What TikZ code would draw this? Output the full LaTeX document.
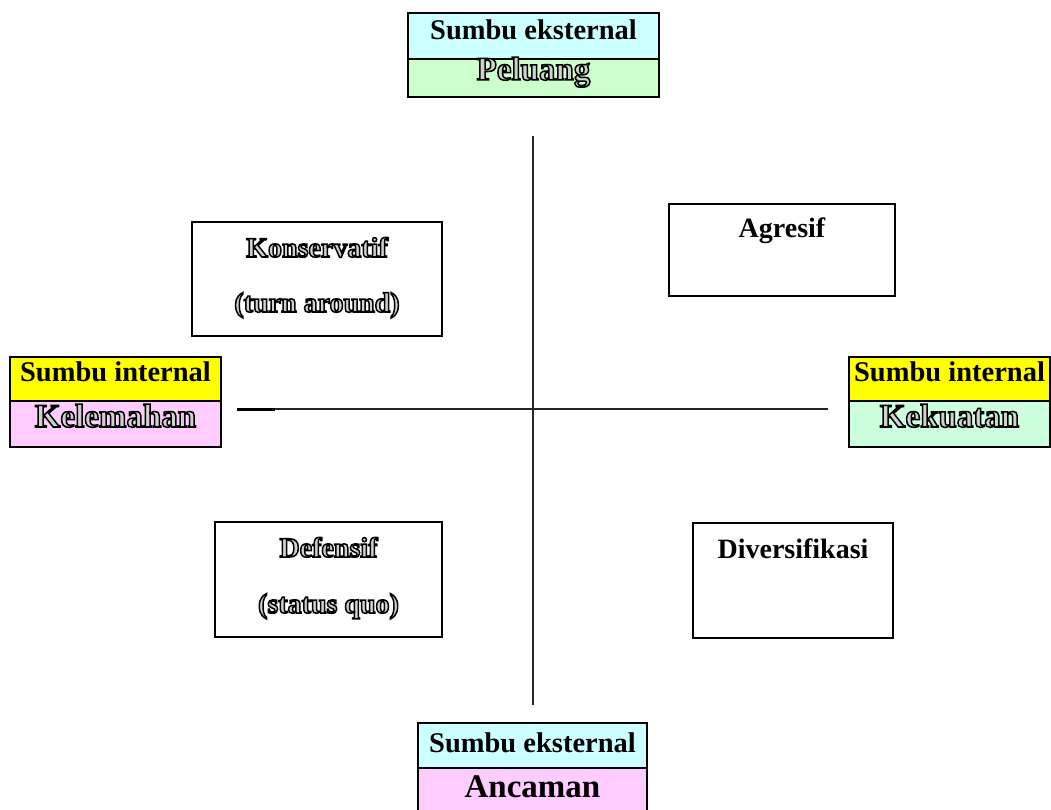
\documentclass[tikz,border=0pt]{standalone}
\usepackage{fontspec}
\setmainfont{Liberation Serif}
\usepackage{tikz}
\usetikzlibrary{positioning, calc}
\definecolor{langit}{RGB}{204,255,255}
\definecolor{daun}{RGB}{204,255,204}
\definecolor{jambu}{RGB}{255,204,255}
\definecolor{kuning}{RGB}{255,255,0}
\definecolor{mint}{RGB}{204,255,221}
\newcommand{\berongga}[1]{\special{pdf:literal direct 2 Tr 1.5 w 0.82 g}#1\special{pdf:literal direct 0 Tr 0 g}}
\tikzset{
  sumbu/.style={rectangle, draw=black, line width=1.5pt, inner xsep=0pt, inner ysep=0pt,
                outer sep=0pt, font=\fontsize{28.5}{34}\selectfont\bfseries},
  nilai/.style={sumbu, font=\fontsize{33}{40}\selectfont\bfseries},
  kuadran/.style={rectangle, draw=black, line width=1.5pt, fill=white, outer sep=0pt,
                  anchor=north west},
  teks/.style={anchor=base, inner sep=0pt, font=\fontsize{28}{34}\selectfont\bfseries},
  garis/.style={line width=2pt, black!85}
}

\begin{document}
\begin{tikzpicture}[x=1pt, y=-1pt]
  \useasboundingbox (0,0) rectangle (1051,810);
  % sumbu
  \coordinate (atas)  at (533,136);
  \coordinate (bawah) at (533,705);
  \coordinate (kiri)  at (237,409);
  \coordinate (tanda) at (275,409);
  \coordinate (kanan) at (828,409);
  \draw[garis] (atas) -- (bawah);
  \draw[garis] (kiri) -- (kanan);
  \draw[garis, line width=3pt, black] (kiri) -- (tanda);

  % sumbu eksternal (atas)
  \node[sumbu, fill=langit, anchor=north west, minimum width=251pt,
        text height=27pt, text depth=19pt] (eksAtas) at (408,13) {Sumbu eksternal};
  \node[nilai, fill=daun, below=0pt of eksAtas, minimum width=251pt,
        text height=21pt, text depth=17pt] (peluang) {\berongga{Peluang}};

  % sumbu internal (kiri)
  \node[sumbu, fill=kuning, anchor=north west, minimum width=211pt,
        text height=24pt, text depth=20pt] (intKiri) at (10,357) {Sumbu internal};
  \node[nilai, fill=jambu, below=0pt of intKiri, minimum width=211pt,
        text height=26pt, text depth=20pt] (kelemahan) {\berongga{Kelemahan}};

  % sumbu internal (kanan)
  \node[sumbu, fill=kuning, anchor=north west, minimum width=201pt,
        text height=24pt, text depth=20pt] (intKanan) at (849,357) {Sumbu internal};
  \node[nilai, fill=mint, below=0pt of intKanan, minimum width=201pt,
        text height=26pt, text depth=20pt] (kekuatan) {\berongga{Kekuatan}};

  % sumbu eksternal (bawah)
  \node[sumbu, fill=langit, anchor=north west, minimum width=229pt,
        text height=29pt, text depth=16pt] (eksBawah) at (418,723) {Sumbu eksternal};
  \node[nilai, fill=jambu, below=0pt of eksBawah, minimum width=229pt,
        text height=29pt, text depth=16pt] (ancaman) {Ancaman};

  % kuadran
  \node[kuadran, minimum width=250pt, minimum height=114pt] (kons) at (192,222) {};
  \node[kuadran, minimum width=226pt, minimum height=92pt]  (agr)  at (669,204) {};
  \node[kuadran, minimum width=227pt, minimum height=115pt] (def)  at (215,522) {};
  \node[kuadran, minimum width=200pt, minimum height=115pt] (div)  at (693,523) {};

  \node[teks] (konsA) at ($(kons.north)+(0,35)$) {\berongga{Konservatif}};
  \node[teks] (konsB) at ($(kons.north)+(0,90)$) {\berongga{(turn around)}};
  \node[teks] (agrA)  at ($(agr.north)+(0,34)$)  {Agresif};
  \node[teks] (defA)  at ($(def.north)+(0,35)$)  {\berongga{Defensif}};
  \node[teks] (defB)  at ($(def.north)+(0,91)$)  {\berongga{(status quo)}};
  \node[teks] (divA)  at ($(div.north)+(0,35)$)  {Diversifikasi};
\end{tikzpicture}
\end{document}
